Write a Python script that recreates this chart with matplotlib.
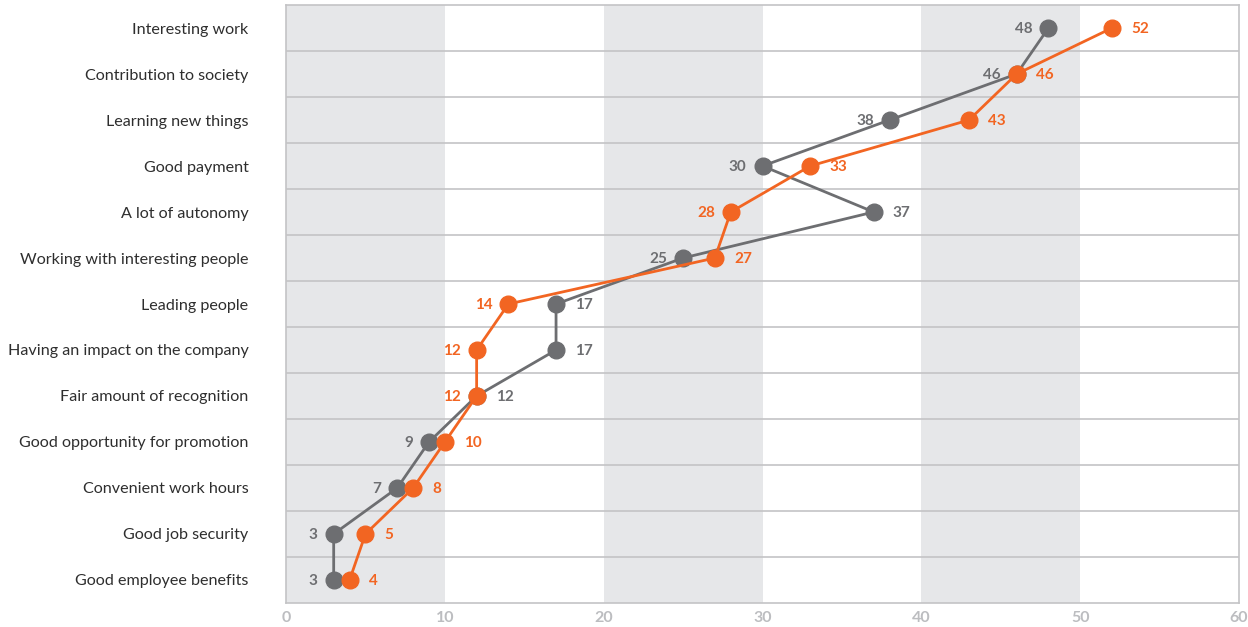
import matplotlib.pyplot as plt

plt.rcParams['font.family'] = ['Lato', 'DejaVu Sans']

categories = ['Interesting work', 'Contribution to society', 'Learning new things',
              'Good payment', 'A lot of autonomy', 'Working with interesting people',
              'Leading people', 'Having an impact on the company',
              'Fair amount of recognition', 'Good opportunity for promotion',
              'Convenient work hours', 'Good job security', 'Good employee benefits']
gray_vals = [48, 46, 38, 30, 37, 25, 17, 17, 12, 9, 7, 3, 3]
orange_vals = [52, 46, 43, 33, 28, 27, 14, 12, 12, 10, 8, 5, 4]
# which side the value label goes: 'l' or 'r'
gray_side = ['l', 'l', 'l', 'l', 'r', 'l', 'r', 'r', 'r', 'l', 'l', 'l', 'l']
orange_side = ['r', 'r', 'r', 'r', 'l', 'r', 'l', 'l', 'l', 'r', 'r', 'r', 'r']

GRAY = '#6d6e71'
ORANGE = '#f26522'
BAND = '#e6e7e9'
GRID = '#c4c4c6'

fig = plt.figure(figsize=(12.48, 6.27), dpi=100)
ax = fig.add_axes([0.2292, 0.0383, 0.7636, 0.9537])

n = len(categories)
ys = list(range(n))

for start in (0, 20, 40):
    ax.axvspan(start, start + 10, color=BAND, zorder=0, lw=0)
for b in range(1, n):
    ax.axhline(b - 0.5, color=GRID, lw=1.2, zorder=1)

ax.plot(gray_vals, ys, color=GRAY, lw=2, marker='o', ms=12, zorder=3)
ax.plot(orange_vals, ys, color=ORANGE, lw=2, marker='o', ms=12, zorder=4)

for vals, sides, col in ((gray_vals, gray_side, GRAY), (orange_vals, orange_side, ORANGE)):
    for y, v, s in zip(ys, vals, sides):
        if s == 'r':
            ax.text(v + 1.2, y + 0.03, str(v), color=col, fontsize=11, fontweight='bold',
                    ha='left', va='center')
        else:
            ax.text(v - 1.0, y + 0.03, str(v), color=col, fontsize=11, fontweight='bold',
                    ha='right', va='center')

ax.set_xlim(0, 60)
ax.set_ylim(n - 0.5, -0.5)
ax.set_xticks(range(0, 61, 10))
ax.set_xticklabels([str(t) for t in range(0, 61, 10)], color='#bcbdc0',
                   fontsize=11.5, fontweight='bold')
ax.set_yticks(ys)
ax.set_yticklabels(categories, fontsize=11.6, color='#2e2e2e')
ax.tick_params(axis='both', length=0)
ax.tick_params(axis='y', pad=27)
ax.tick_params(axis='x', pad=6)
for sp in ax.spines.values():
    sp.set_color(GRID)
    sp.set_linewidth(1.2)

fig.savefig('out.png', dpi=100)
